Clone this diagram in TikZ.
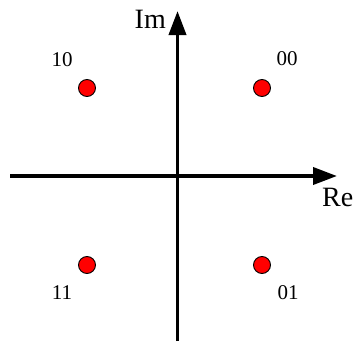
\documentclass[tikz,border=0pt]{standalone}
\usepackage{fontspec}
\setmainfont{Liberation Serif}
\usetikzlibrary{arrows.meta}
\begin{document}
\begin{tikzpicture}[x=1pt,y=-1pt,
  axis/.style={line width=3.8pt, -{Triangle[length=24pt,width=17pt]}},
  sym/.style={circle, draw=black, line width=0.9pt, fill=red, minimum size=17pt, inner sep=0pt},
  lbl/.style={inner sep=0pt, font=\fontsize{21}{21}\selectfont},
  axlbl/.style={inner sep=0pt, font=\fontsize{28}{28}\selectfont}]
\useasboundingbox (0,0) rectangle (359,343);
\coordinate (xl) at (10,176);
\coordinate (xr) at (337,176);
\coordinate (yb) at (177.5,341);
\coordinate (yt) at (177.5,11);
\draw[axis] (xl) -- (xr);
\draw[axis] (yb) -- (yt);
\node[axlbl, anchor=base east] (im) at (166,28) {Im};
\node[axlbl, anchor=base west] (re) at (322,206) {Re};
\node[sym] (s10) at (87,88) {};
\node[sym] (s00) at (262,88) {};
\node[sym] (s11) at (87,265) {};
\node[sym] (s01) at (262,265) {};
\node[lbl] (l10) at (62,59.5) {10};
\node[lbl] (l00) at (287,58.5) {00};
\node[lbl] (l11) at (62,293) {11};
\node[lbl] (l01) at (288,293) {01};
\end{tikzpicture}
\end{document}
